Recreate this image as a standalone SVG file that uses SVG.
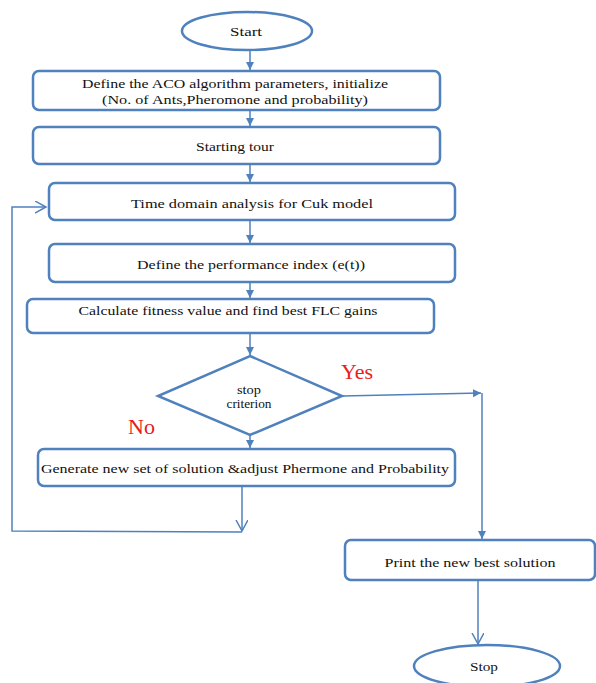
<svg xmlns="http://www.w3.org/2000/svg" width="596" height="683" viewBox="0 0 596 683">
<style>
.box{fill:#fff;stroke:#4F81BD;stroke-width:2.5}
.t{font-family:"Liberation Serif","Times New Roman",serif;font-size:13.5px;fill:#111;text-anchor:middle}
.s{font-size:11.5px}
.lab{font-family:"Liberation Serif","Times New Roman",serif;font-size:22px;fill:#E8201C}
.c{fill:none;stroke:#4F81BD;stroke-width:1.5}
.fh{fill:#4F81BD}
</style>
<defs>
<marker id="fa" markerWidth="10" markerHeight="10" refX="8" refY="4" orient="auto" markerUnits="userSpaceOnUse">
<path d="M0,0 L8,4 L0,8 z" class="fh"/>
</marker>
<marker id="oa" markerWidth="14" markerHeight="14" refX="11" refY="6" orient="auto" markerUnits="userSpaceOnUse">
<path d="M0,0 L11,6 L0,12" fill="none" stroke="#4F81BD" stroke-width="1.5"/>
</marker>
</defs>
<rect width="596" height="683" fill="#fff"/>
<g id="connectors">
<line class="c" x1="250" y1="50" x2="250" y2="70" marker-end="url(#fa)"/>
<line class="c" x1="250" y1="110" x2="250" y2="126" marker-end="url(#fa)"/>
<line class="c" x1="250" y1="164" x2="250" y2="182" marker-end="url(#fa)"/>
<line class="c" x1="250" y1="220" x2="250" y2="243" marker-end="url(#fa)"/>
<line class="c" x1="250" y1="282" x2="250" y2="298" marker-end="url(#fa)"/>
<line class="c" x1="250" y1="333" x2="250" y2="355" marker-end="url(#fa)"/>
<line class="c" x1="250" y1="435" x2="250" y2="448" marker-end="url(#fa)"/>
<polyline class="c" points="342,396 481,393" marker-end="url(#fa)"/>
<line class="c" x1="482" y1="393" x2="482" y2="539" marker-end="url(#fa)"/>
<line class="c" x1="242" y1="486" x2="242" y2="531" marker-end="url(#oa)"/>
<polyline class="c" points="242,532 12,531 12,207 46,207" marker-end="url(#oa)"/>
<line class="c" x1="478" y1="580" x2="478" y2="644" marker-end="url(#oa)"/>
</g>
<g id="start"><ellipse class="box" cx="247" cy="31" rx="65" ry="19"/><text class="t" x="246" y="36" textLength="32" lengthAdjust="spacingAndGlyphs">Start</text></g>
<g id="define"><rect class="box" x="33" y="71" width="407" height="39" rx="6"/>
<text class="t" x="235" y="88" textLength="306" lengthAdjust="spacingAndGlyphs">Define the ACO  algorithm parameters, initialize</text>
<text class="t" x="235" y="104" textLength="266" lengthAdjust="spacingAndGlyphs">(No. of Ants,Pheromone and probability)</text></g>
<g id="tour"><rect class="box" x="33" y="127" width="407" height="37" rx="6"/><text class="t" x="235" y="151" textLength="78" lengthAdjust="spacingAndGlyphs">Starting tour</text></g>
<g id="timedomain"><rect class="box" x="49" y="183" width="406" height="37" rx="6"/><text class="t" x="252" y="208" textLength="242" lengthAdjust="spacingAndGlyphs">Time domain analysis for Cuk  model</text></g>
<g id="perf"><rect class="box" x="49" y="244" width="406" height="38" rx="6"/><text class="t" x="251" y="269" textLength="228" lengthAdjust="spacingAndGlyphs">Define the performance index (e(t))</text></g>
<g id="fitness"><rect class="box" x="27" y="299" width="407" height="34" rx="6"/><text class="t" x="228" y="315" textLength="299" lengthAdjust="spacingAndGlyphs">Calculate fitness value and find best FLC gains</text></g>
<g id="decision"><polygon class="box" points="250,356 342,396 250,435 158,396"/>
<text class="t s" x="249" y="394" textLength="24" lengthAdjust="spacingAndGlyphs">stop</text><text class="t s" x="249" y="408" textLength="45" lengthAdjust="spacingAndGlyphs">criterion</text></g>
<g id="generate"><rect class="box" x="38" y="449" width="417" height="37" rx="6"/><text class="t" x="245" y="473" textLength="408" lengthAdjust="spacingAndGlyphs">Generate new set of solution &amp;adjust Phermone and Probability</text></g>
<g id="print"><rect class="box" x="345" y="540" width="250" height="40" rx="6"/><text class="t" x="470" y="567" textLength="171" lengthAdjust="spacingAndGlyphs">Print the new best solution</text></g>
<g id="stop"><ellipse class="box" cx="487" cy="666" rx="73" ry="21"/><text class="t" x="484" y="671" textLength="28" lengthAdjust="spacingAndGlyphs">Stop</text></g>
<text class="lab" x="341" y="379">Yes</text>
<text class="lab" x="128" y="434">No</text>
</svg>
